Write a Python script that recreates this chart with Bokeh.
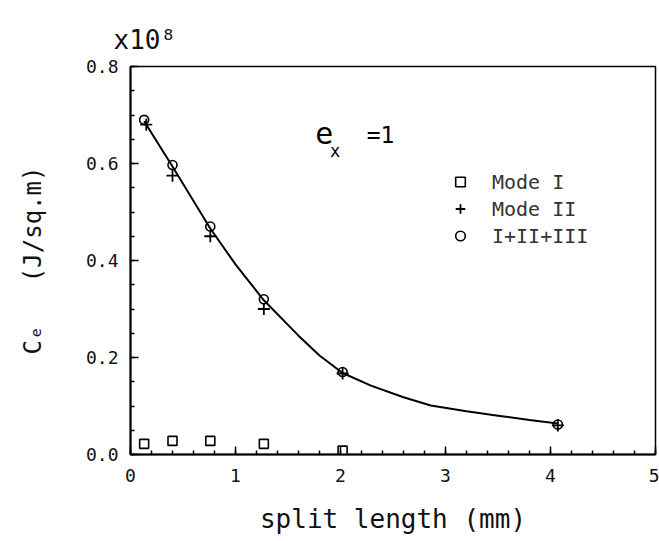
from bokeh.plotting import figure
from bokeh.models import (Label, Legend, LegendItem, SingleIntervalTicker,
                          PrintfTickFormatter, Range1d, Title)
from bokeh.embed import file_html
from bokeh.resources import INLINE

# Split length (mm) and fracture energy C_e (x 1e8 J/sq.m)
mode1_x = [0.13, 0.40, 0.76, 1.27, 2.02]
mode1_y = [0.022, 0.028, 0.028, 0.022, 0.008]

mode2_x = [0.15, 0.40, 0.76, 1.27, 2.02, 4.07]
mode2_y = [0.680, 0.575, 0.450, 0.300, 0.167, 0.060]

total_x = [0.13, 0.40, 0.76, 1.27, 2.02, 4.07]
total_y = [0.690, 0.597, 0.470, 0.320, 0.170, 0.062]

# smooth fitted curve through the total energy
fit_x = [0.13, 0.40, 0.76, 1.00, 1.27, 1.60, 1.80, 2.02, 2.29, 2.60,
         2.86, 3.20, 3.50, 3.80, 4.07]
fit_y = [0.687, 0.594, 0.466, 0.392, 0.318, 0.245, 0.204, 0.168, 0.142, 0.118,
         0.101, 0.089, 0.080, 0.071, 0.064]

legend_labels = ["Mode I", "Mode II", "I+II+III"]

FONT = "DejaVu Sans Mono"
NBSP = "\u00a0"

p = figure(width=659, height=541, output_backend="svg", toolbar_location=None,
           x_range=Range1d(0, 5), y_range=Range1d(0, 0.8),
           min_border_left=130, min_border_right=4,
           min_border_top=66, min_border_bottom=87)
p.background_fill_color = "white"
p.border_fill_color = "white"
p.xgrid.visible = False
p.ygrid.visible = False
p.outline_line_color = "black"
p.outline_line_width = 1.5

# axes: inward ticks, plotter style
p.xaxis.ticker = SingleIntervalTicker(interval=1, num_minor_ticks=5)
p.yaxis.ticker = SingleIntervalTicker(interval=0.2, num_minor_ticks=4)
p.yaxis.formatter = PrintfTickFormatter(format="%.1f")
for ax in (p.xaxis, p.yaxis):
    ax.axis_line_width = 2
    ax.axis_line_color = "black"
    ax.major_tick_in = 8
    ax.major_tick_out = 0
    ax.minor_tick_in = 4
    ax.minor_tick_out = 0
    ax.major_tick_line_width = 1.5
    ax.minor_tick_line_width = 1.5
    ax.major_label_text_font = FONT
    ax.major_label_text_font_size = "18px"
    ax.major_label_text_color = "#111111"
    ax.axis_label_text_font = FONT
    ax.axis_label_text_font_style = "normal"
    ax.axis_label_text_color = "#111111"
p.xaxis.major_label_standoff = 14
p.yaxis.major_label_standoff = 12

p.xaxis.axis_label = "split length (mm)"
p.xaxis.axis_label_text_font_size = "26px"
p.xaxis.axis_label_standoff = 19

p.yaxis.axis_label = "C\u2091" + NBSP * 3 + "(J/sq.m)"
p.yaxis.axis_label_text_font_size = "24px"
p.yaxis.axis_label_standoff = 36

# scale factor above the y axis
p.add_layout(Title(text="x10\u2078", align="left", offset=-17, standoff=24,
                   text_font=FONT, text_font_size="26px",
                   text_font_style="normal", text_color="#111111"), "above")

# data
p.line(fit_x, fit_y, line_color="black", line_width=2)
r1 = p.scatter(mode1_x, mode1_y, marker="square", size=9, fill_color="white",
               line_color="black", line_width=1.6)
r2 = p.scatter(mode2_x, mode2_y, marker="cross", size=12,
               line_color="black", line_width=1.8)
r3 = p.scatter(total_x, total_y, marker="circle", size=9, fill_color="white",
               fill_alpha=0.0, line_color="black", line_width=1.6)

legend = Legend(items=[LegendItem(label=legend_labels[0], renderers=[r1]),
                       LegendItem(label=legend_labels[1], renderers=[r2]),
                       LegendItem(label=legend_labels[2], renderers=[r3])],
                location=(318, 205), orientation="vertical",
                glyph_width=24, glyph_height=27, label_height=27,
                label_standoff=20, spacing=0, padding=0, margin=0,
                border_line_color=None, background_fill_alpha=0.0,
                label_text_font=FONT, label_text_font_size="20px",
                label_text_color="#333333")
p.add_layout(legend)


def add_text(x, y, text, size):
    p.add_layout(Label(x=x, y=y, text=text, text_align="left",
                       text_baseline="middle", text_font=FONT,
                       text_font_size=size, text_color="black"))


# e_x = 1
add_text(1.76, 0.663, "e", "30px")
add_text(1.90, 0.625, "x", "17px")
add_text(2.25, 0.658, "=1", "23px")

open("out.html", "w").write(file_html(p, INLINE))
